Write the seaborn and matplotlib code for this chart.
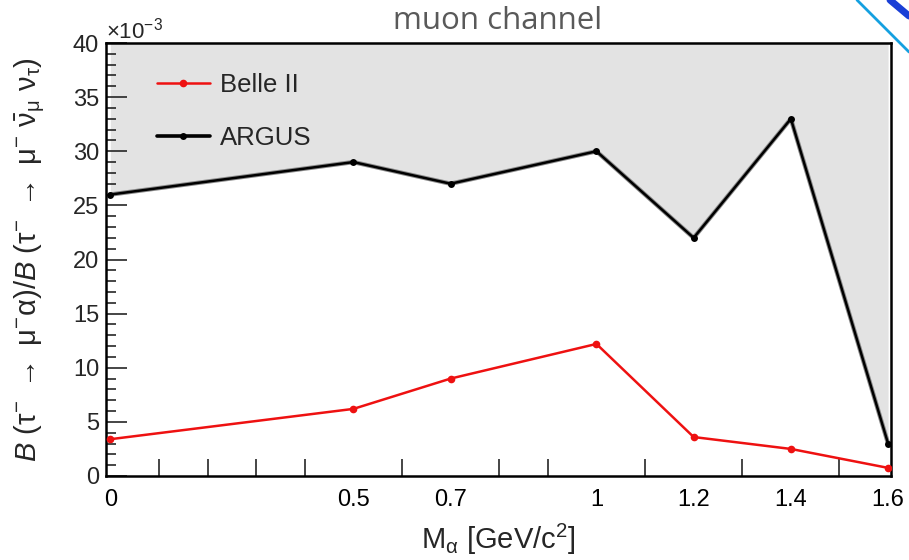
import matplotlib
matplotlib.use("Agg")
import matplotlib.pyplot as plt
from matplotlib.lines import Line2D
from matplotlib.ticker import MultipleLocator, FixedLocator
import pandas as pd
import seaborn as sns

# Mass points of the alpha boson [GeV/c^2]
mass = [0.0, 0.5, 0.7, 1.0, 1.2, 1.4, 1.6]
# Upper limits on the branching-fraction ratio (units of 1e-3)
belle2 = [3.4, 6.2, 9.0, 12.2, 3.6, 2.5, 0.75]
argus = [26.0, 29.0, 27.0, 30.0, 22.0, 33.0, 3.0]
xtick_labels = ["0", "0.5", "0.7", "1", "1.2", "1.4", "1.6"]

df = pd.DataFrame({"mass": mass, "Belle II": belle2, "ARGUS": argus})

sns.set_style("ticks")
plt.rcParams["font.family"] = ["Liberation Sans", "DejaVu Sans"]
plt.rcParams["mathtext.fontset"] = "custom"
plt.rcParams["mathtext.rm"] = "Liberation Sans"
plt.rcParams["mathtext.it"] = "Liberation Sans:italic"
plt.rcParams["mathtext.bf"] = "Liberation Sans:bold"

RED = "#ee1111"

fig = plt.figure(figsize=(9.09, 5.60), dpi=100)
ax = fig.add_axes([0.1166, 0.15, 0.8636, 0.7732])

# excluded region above the ARGUS limit
ax.fill_between(df["mass"], df["ARGUS"], 40, color="#e3e3e3", lw=0, zorder=0)

sns.lineplot(data=df, x="mass", y="ARGUS", ax=ax, color="#8a8a8a", lw=3.2,
             zorder=2, legend=False)
sns.lineplot(data=df, x="mass", y="ARGUS", ax=ax, color="black", lw=1.8,
             marker="o", markersize=5, markeredgewidth=0, zorder=3, legend=False)
sns.lineplot(data=df, x="mass", y="Belle II", ax=ax, color=RED, lw=1.8,
             marker="o", markersize=5.5, markeredgewidth=0, zorder=4, legend=False)

ax.set_xlim(-0.009, 1.606)
ax.set_ylim(0, 40)

ax.xaxis.set_major_locator(FixedLocator(mass))
ax.set_xticklabels(xtick_labels)
ax.xaxis.set_minor_locator(MultipleLocator(0.1))
ax.yaxis.set_major_locator(MultipleLocator(5))
ax.yaxis.set_minor_locator(MultipleLocator(1))

ax.tick_params(axis="x", which="major", direction="in", length=0, pad=9,
               labelsize=17, colors="black")
ax.tick_params(axis="x", which="minor", direction="in", length=12, width=1.2)
ax.tick_params(axis="y", which="major", direction="in", length=15, width=1.2,
               pad=5, labelsize=17)
ax.tick_params(axis="y", which="minor", direction="in", length=7, width=1.2)

for s in ax.spines.values():
    s.set_linewidth(1.8)
    s.set_color("black")

ax.set_xlabel(r"M$_{\mathrm{α}}$ [GeV/c$^{2}$]", fontsize=21)
ax.xaxis.set_label_coords(0.5, -0.105)
ax.set_ylabel(r"$\mathit{B}$ (τ$^{-}$ $\rightarrow$ μ$^{-}$α)/$\mathit{B}$ (τ$^{-}$ $\rightarrow$ μ$^{-}$ "
              r"$\bar{\mathrm{ν}}_{\mathrm{μ}}$ ν$_{\mathrm{τ}}$)",
              fontsize=21)
ax.yaxis.set_label_coords(-0.075, 0.5)

ax.text(0.0, 1.0, r"$\times$10$^{-3}$", transform=ax.transAxes,
        fontsize=16, ha="left", va="bottom")

fig.text(0.547, 0.962, "muon channel", fontsize=22.5, color="#595959",
         ha="center", va="center", family=["Open Sans", "DejaVu Sans"])

handles = [
    Line2D([], [], color=RED, lw=1.8, marker="o", markersize=5.5,
           markeredgewidth=0),
    Line2D([], [], color="black", lw=2.6, marker="o", markersize=5,
           markeredgewidth=0),
]
leg = ax.legend(handles, ["Belle II", "ARGUS"], loc="upper left",
                bbox_to_anchor=(0.065, 0.93), frameon=False, fontsize=18.5,
                handlelength=2.06, labelspacing=1.1, handletextpad=0.4,
                borderpad=0, borderaxespad=0)

# slide decoration in the top-right corner
fig.add_artist(Line2D([857 / 909, 1.0], [1.0, 1 - 52 / 560],
                      transform=fig.transFigure, color="#14a0e0", lw=2))
fig.add_artist(Line2D([890 / 909, 1.0], [1.0, 1 - 16 / 560],
                      transform=fig.transFigure, color="#1a3fd6", lw=5))

fig.savefig("out.png", dpi=100)
